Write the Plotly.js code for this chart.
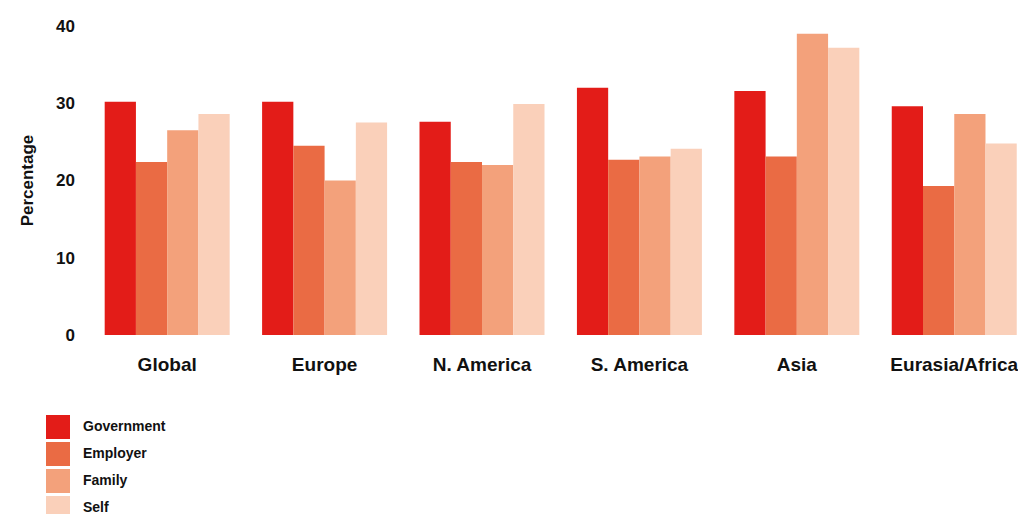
<!DOCTYPE html>
<html>
<head>
<meta charset="utf-8">
<script src="https://cdn.plot.ly/plotly-3.0.1.min.js"></script>
<style>
  html, body { margin: 0; padding: 0; background: #ffffff; }
  #chart { width: 1018px; height: 514px; }
</style>
</head>
<body>
<div id="chart"></div>
<script>
// Regions along the x axis
const regions = ['Global', 'Europe', 'N. America', 'S. America', 'Asia', 'Eurasia/Africa'];

// Share (%) by source, per region
const government = [30.2, 30.2, 27.6, 32.0, 31.6, 29.6];
const employer   = [22.4, 24.5, 22.4, 22.7, 23.1, 19.3];
const family     = [26.5, 20.0, 22.0, 23.1, 39.0, 28.6];
const self       = [28.6, 27.5, 29.9, 24.1, 37.2, 24.8];

const seriesNames = ['Government', 'Employer', 'Family', 'Self'];
const seriesValues = [government, employer, family, self];
const seriesColors = ['#e31c18', '#ea6b44', '#f3a17b', '#fad0ba'];

const yTicks = [0, 10, 20, 30, 40];

const W = 1018, H = 514;
const M = { l: 88, r: 0, t: 26, b: 179 };
const plotW = W - M.l - M.r, plotH = H - M.t - M.b;
const FONT = 'Liberation Sans, Arial, sans-serif';

// pixel -> paper helpers for the hand-placed legend
const px = x => (x - M.l) / plotW;
const py = y => (H - M.b - y) / plotH;

const traces = seriesNames.map((name, i) => ({
  type: 'bar',
  name: name,
  x: regions,
  y: seriesValues[i],
  marker: { color: seriesColors[i], line: { width: 0 } },
  hoverinfo: 'skip'
}));

const shapes = [], annotations = [];
seriesNames.forEach((name, i) => {
  const top = 415 + i * 27;
  shapes.push({
    type: 'rect', xref: 'paper', yref: 'paper',
    x0: px(46), x1: px(70), y0: py(top + 24), y1: py(top),
    fillcolor: seriesColors[i], line: { width: 0 }
  });
  annotations.push({
    xref: 'paper', yref: 'paper',
    x: px(81), y: py(top + 10.5), xanchor: 'left', yanchor: 'middle',
    text: '<b>' + name + '</b>', showarrow: false,
    font: { family: FONT, size: 14, color: '#111111' }
  });
});

const layout = {
  width: W, height: H,
  margin: M,
  paper_bgcolor: '#ffffff', plot_bgcolor: '#ffffff',
  barmode: 'group', bargap: 0.206, bargroupgap: 0,
  showlegend: false,
  font: { family: FONT, color: '#111111' },
  xaxis: {
    type: 'category',
    range: [-0.503, 5.405],
    showgrid: false, zeroline: false, showline: false, ticks: '',
    tickfont: { family: FONT, size: 19, weight: 'bold', color: '#111111' },
    ticklabelstandoff: 16
  },
  yaxis: {
    range: [0, 40],
    tickvals: yTicks,
    ticktext: yTicks.map(String),
    showgrid: false, zeroline: false, showline: false, ticks: '',
    tickfont: { family: FONT, size: 17, weight: 'bold', color: '#111111' },
    ticklabelstandoff: 12,
    title: { text: 'Percentage', font: { family: FONT, size: 17, weight: 'bold', color: '#111111' }, standoff: 18 }
  },
  shapes: shapes,
  annotations: annotations
};

Plotly.newPlot('chart', traces, layout, { displayModeBar: false, staticPlot: true });
</script>
</body>
</html>
